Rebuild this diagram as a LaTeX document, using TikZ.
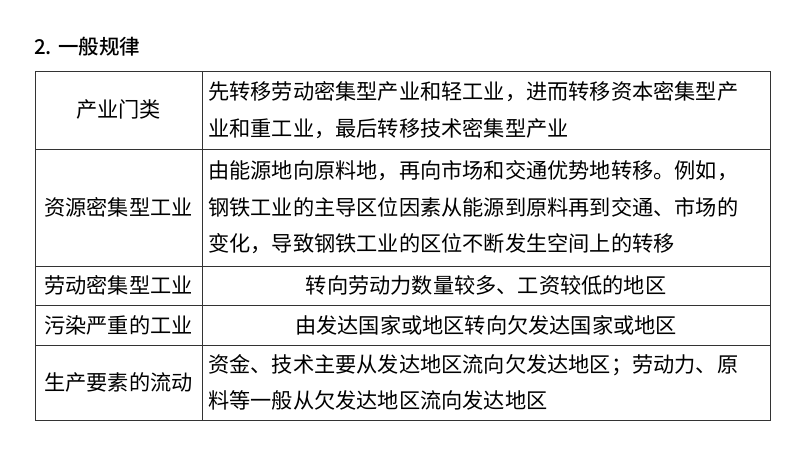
\documentclass[tikz,border=0pt]{standalone}
\usepackage{fontspec}
\newfontfamily\cjk{Noto Sans CJK SC}
\newfontfamily\cjkb{Noto Sans CJK SC Medium}
\begin{document}
\begin{tikzpicture}[x=1pt,y=-1pt,
  cell/.style={font=\cjk\fontsize{21.2}{36.5}\selectfont,inner sep=0pt},
  grid/.style={line width=1pt,draw=black!80}]
\useasboundingbox[fill=white] (0,0) rectangle (800,450);
\node[anchor=west,font=\cjkb\fontsize{20.5}{26}\selectfont,inner sep=0pt] (title) at (34,47) {2. 一般规律};
\draw[grid] (35,71) rectangle (770,420);
\draw[grid] (202,71) -- (202,420);
\foreach \y in {149,266,305,345} \draw[grid] (35,\y) -- (770,\y);
\node[cell] (l1) at (118.5,110) {产业门类};
\node[cell] (l2) at (118.5,207.5) {资源密集型工业};
\node[cell] (l3) at (118.5,285.5) {劳动密集型工业};
\node[cell] (l4) at (118.5,325) {污染严重的工业};
\node[cell] (l5) at (118.5,382.5) {生产要素的流动};
\node[cell,anchor=west,align=left] (r1) at (208,110) {先转移劳动密集型产业和轻工业，进而转移资本密集型产\\业和重工业，最后转移技术密集型产业};
\node[cell,anchor=west,align=left] (r2) at (208,207.5) {由能源地向原料地，再向市场和交通优势地转移。例如，\\钢铁工业的主导区位因素从能源到原料再到交通、市场的\\变化，导致钢铁工业的区位不断发生空间上的转移};
\node[cell] (r3) at (486,285.5) {转向劳动力数量较多、工资较低的地区};
\node[cell] (r4) at (486,325) {由发达国家或地区转向欠发达国家或地区};
\node[cell,anchor=west,align=left] (r5) at (208,382.5) {资金、技术主要从发达地区流向欠发达地区；劳动力、原\\料等一般从欠发达地区流向发达地区};
\end{tikzpicture}
\end{document}
